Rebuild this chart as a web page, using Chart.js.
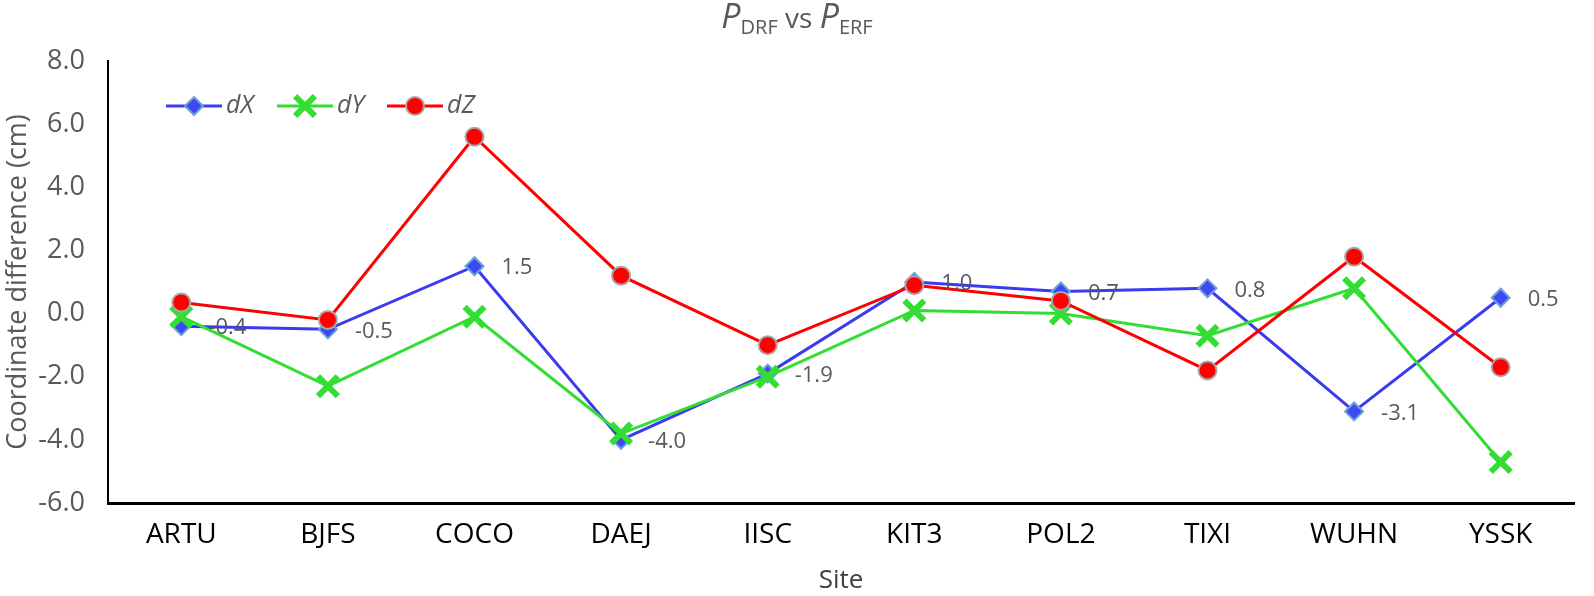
<!DOCTYPE html>
<html>
<head>
<meta charset="utf-8">
<script src="https://cdn.jsdelivr.net/npm/chart.js@4/dist/chart.umd.min.js"></script>
<style>
  body { margin: 0; background: #fff; }
  #wrap { position: relative; width: 1594px; height: 596px; }
  #title {
    position: absolute; top: 0; left: 0; width: 100%; text-align: center;
    font-family: "Open Sans", sans-serif; color: #595959; font-size: 28px; line-height: 30px;
  }
  #title i { font-size: 34px; }
  #title sub { font-size: 20px; vertical-align: -6px; }
</style>
</head>
<body>
<div id="wrap">
  <canvas id="chart" width="1594" height="596"></canvas>
  <div id="title"><i>P</i><sub>DRF</sub> vs <i>P</i><sub>ERF</sub></div>
</div>
<script>
// ============= Dados =============
const sites = ["ARTU","BJFS","COCO","DAEJ","IISC","KIT3","POL2","TIXI","WUHN","YSSK"];
const dX = [-0.4, -0.5, 1.5, -4.0, -1.9, 1.0, 0.7, 0.8, -3.1, 0.5];
const dY = [-0.1, -2.3, -0.1, -3.8, -2.0, 0.1, 0.0, -0.7, 0.8, -4.7];
const dZ = [0.35, -0.2, 5.6, 1.2, -1.0, 0.9, 0.4, -1.8, 1.8, -1.7];
const yTicks = [-6, -4, -2, 0, 2, 4, 6, 8];

const FONT = "'Open Sans', sans-serif";
const GREY = "#595959";

// marcador desenhado à mão (legenda)
function drawMarker(ctx, ds, x, y) {
  ctx.save();
  ctx.lineWidth = ds.pointBorderWidth;
  ctx.strokeStyle = ds.pointBorderColor;
  ctx.fillStyle = ds.pointBackgroundColor;
  const r = ds.pointRadius;
  ctx.beginPath();
  if (ds.pointStyle === "rectRot") {
    ctx.moveTo(x, y - r); ctx.lineTo(x + r, y); ctx.lineTo(x, y + r); ctx.lineTo(x - r, y); ctx.closePath();
    ctx.fill(); ctx.stroke();
  } else if (ds.pointStyle === "crossRot") {
    const d = r * Math.SQRT1_2;
    ctx.moveTo(x - d, y - d); ctx.lineTo(x + d, y + d);
    ctx.moveTo(x + d, y - d); ctx.lineTo(x - d, y + d);
    ctx.stroke();
  } else {
    ctx.arc(x, y, r, 0, Math.PI * 2);
    ctx.fill(); ctx.stroke();
  }
  ctx.restore();
}

const legendPlugin = {
  id: "insideLegend",
  afterDraw(chart) {
    const ctx = chart.ctx;
    const y = 106;
    const starts = [166, 277, 387];
    chart.data.datasets.forEach((ds, i) => {
      const x0 = starts[i];
      ctx.save();
      ctx.strokeStyle = ds.borderColor;
      ctx.lineWidth = ds.borderWidth;
      ctx.beginPath(); ctx.moveTo(x0, y); ctx.lineTo(x0 + 56, y); ctx.stroke();
      ctx.restore();
      drawMarker(ctx, ds, x0 + 28, y);
      ctx.save();
      ctx.fillStyle = GREY;
      ctx.font = "italic 25px " + FONT;
      ctx.textBaseline = "middle";
      ctx.fillText(ds.label, x0 + 60, y);
      ctx.restore();
    });
  }
};

const labelPlugin = {
  id: "dxLabels",
  afterDatasetsDraw(chart) {
    const ctx = chart.ctx;
    const meta = chart.getDatasetMeta(0);
    ctx.save();
    ctx.fillStyle = GREY;
    ctx.font = "22px " + FONT;
    ctx.textBaseline = "middle";
    meta.data.forEach((pt, i) => {
      ctx.fillText(dX[i].toFixed(1), pt.x + 27, pt.y + 2);
    });
    ctx.restore();
  }
};

new Chart(document.getElementById("chart"), {
  type: "line",
  data: {
    labels: sites,
    datasets: [
      {
        label: "dX", data: dX, order: 2,
        borderColor: "#3a3af0", borderWidth: 3,
        pointStyle: "rectRot", pointRadius: 9, pointHoverRadius: 9,
        pointBackgroundColor: "#3f48f2", pointBorderColor: "#6aa2dc", pointBorderWidth: 2
      },
      {
        label: "dY", data: dY, order: 1,
        borderColor: "#33dd33", borderWidth: 3,
        pointStyle: "crossRot", pointRadius: 14, pointHoverRadius: 14,
        pointBackgroundColor: "#33dd33", pointBorderColor: "#33dd33", pointBorderWidth: 6
      },
      {
        label: "dZ", data: dZ, order: 0,
        borderColor: "#ff0000", borderWidth: 3,
        pointStyle: "circle", pointRadius: 9, pointHoverRadius: 9,
        pointBackgroundColor: "#ff0000", pointBorderColor: "#a6a6a6", pointBorderWidth: 2
      }
    ]
  },
  options: {
    responsive: false,
    animation: false,
    clip: false,
    layout: { padding: { top: 61, right: 4, left: 0, bottom: 0 } },
    plugins: { legend: { display: false }, tooltip: { enabled: false } },
    scales: {
      x: {
        offset: true,
        grid: { display: false },
        border: { display: true, color: "#000", width: 3 },
        ticks: { color: "#000", font: { family: FONT, size: 28 }, padding: 7 },
        title: { display: true, text: "Site", color: "#404040", font: { family: FONT, size: 26 }, padding: { top: 4, bottom: 0 } },
        afterFit: s => { s.height = 93; }
      },
      y: {
        min: yTicks[0], max: yTicks[yTicks.length - 1],
        afterBuildTicks: s => { s.ticks = yTicks.map(v => ({ value: v })); },
        grid: { display: false },
        border: { display: true, color: "#000", width: 2 },
        ticks: { color: GREY, font: { family: FONT, size: 27 }, padding: 15, callback: v => v.toFixed(1) },
        title: { display: true, text: "Coordinate difference (cm)", color: GREY, font: { family: FONT, size: 27 }, padding: 2 },
        afterFit: s => { s.width = 108; }
      }
    }
  },
  plugins: [legendPlugin, labelPlugin]
});
</script>
</body>
</html>
